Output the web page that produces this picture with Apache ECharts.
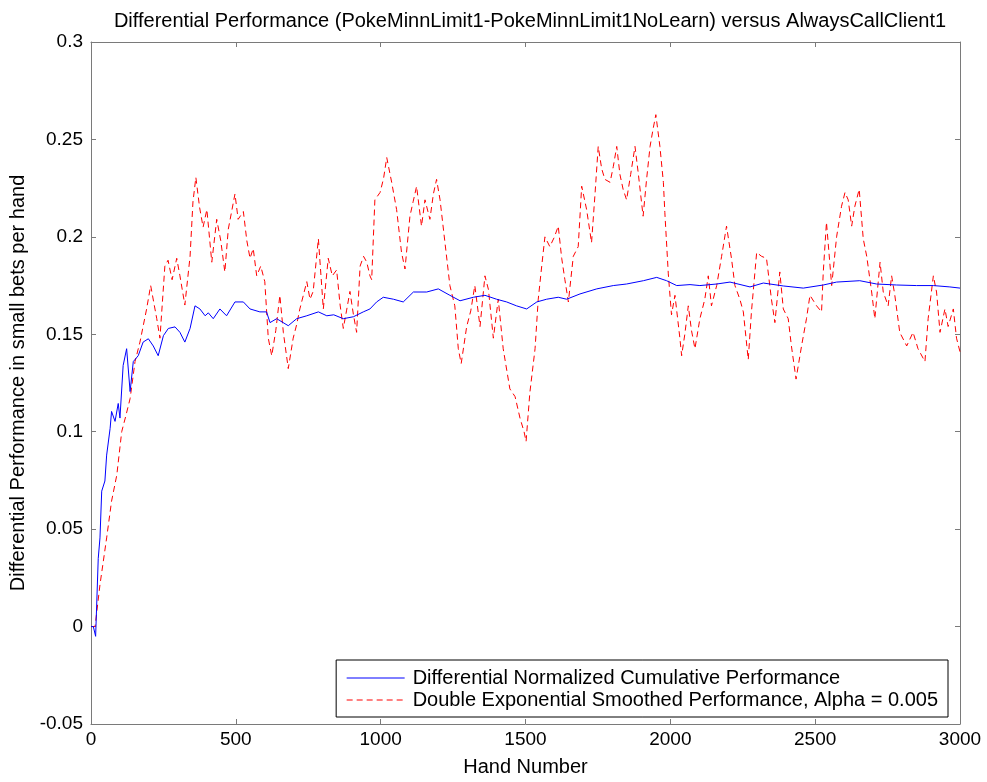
<!DOCTYPE html>
<html>
<head>
<meta charset="utf-8">
<script src="https://cdn.jsdelivr.net/npm/echarts@6/dist/echarts.min.js"></script>
<style>
html,body{margin:0;padding:0;background:#fff;}
#chart{width:987px;height:782px;}
</style>
</head>
<body>
<div id="chart"></div>
<script>
const titleText = "Differential Performance (PokeMinnLimit1-PokeMinnLimit1NoLearn) versus AlwaysCallClient1";
const xAxisName = "Hand Number";
const yAxisName = "Differential Performance in small bets per hand";
const seriesNames = ["Differential Normalized Cumulative Performance", "Double Exponential Smoothed Performance, Alpha = 0.005"];

const blueHands = [0,8,16,25,31,37,48,54,66,71,83,94,100,111,123,135,146,163,180,198,215,232,250,267,290,307,324,342,359,376,394,405,422,445,468,497,526,549,583,606,618,641,681,710,745,785,814,838,871,906,940,963,986,1009,1044,1078,1113,1159,1199,1239,1274,1320,1360,1400,1435,1469,1504,1539,1573,1613,1642,1688,1746,1803,1849,1907,1953,1987,2022,2068,2102,2160,2206,2275,2321,2390,2459,2528,2574,2654,2712,2781,2850,2908,2965,3000];
const blueValues = [0,0.0,-0.005,0.035,0.0455,0.0695,0.0747,0.088,0.1017,0.1104,0.1053,0.1145,0.107,0.134,0.1426,0.1206,0.136,0.139,0.146,0.1477,0.144,0.139,0.1493,0.153,0.1538,0.151,0.146,0.153,0.1646,0.163,0.1595,0.161,0.158,0.163,0.1595,0.1666,0.1666,0.163,0.1615,0.1615,0.156,0.158,0.1544,0.158,0.1595,0.1615,0.1595,0.16,0.158,0.159,0.1615,0.163,0.1666,0.169,0.168,0.1666,0.1717,0.1717,0.1733,0.17,0.1672,0.169,0.17,0.168,0.1666,0.1646,0.163,0.1666,0.168,0.169,0.168,0.1707,0.1733,0.175,0.1758,0.1775,0.1792,0.1775,0.175,0.1755,0.175,0.1758,0.1768,0.1743,0.1763,0.1748,0.1737,0.1753,0.1768,0.1775,0.1758,0.1753,0.175,0.175,0.1743,0.1737];

const redHands = [0,14,31,54,71,89,106,120,135,152,169,192,206,227,238,255,266,280,296,307,324,342,352,362,375,387,400,417,434,448,462,474,497,508,526,538,549,560,572,586,600,612,624,638,652,664,681,698,710,721,733,745,756,767,785,802,819,833,848,860,871,882,894,906,917,929,941,952,963,969,980,998,1010,1021,1038,1055,1072,1084,1101,1112,1124,1141,1153,1170,1182,1193,1205,1222,1239,1256,1268,1278,1297,1311,1325,1343,1360,1372,1389,1406,1423,1446,1464,1481,1495,1502,1515,1533,1544,1556,1567,1584,1600,1613,1625,1636,1648,1665,1682,1694,1711,1728,1740,1751,1763,1774,1792,1803,1815,1826,1837,1849,1863,1878,1889,1906,1918,1930,1940,1950,1964,1976,1981,1993,2004,2016,2033,2039,2050,2062,2073,2085,2102,2119,2131,2142,2160,2177,2194,2211,2223,2240,2252,2269,2280,2298,2315,2332,2349,2361,2378,2390,2407,2418,2434,2453,2470,2482,2505,2522,2528,2539,2557,2574,2591,2603,2614,2626,2637,2652,2666,2678,2695,2706,2724,2735,2752,2764,2775,2792,2816,2838,2855,2879,2890,2908,2919,2931,2948,2959,2977,2988,3000];
const redValues = [0,0.0,0.0215,0.0455,0.0644,0.0777,0.1,0.108,0.117,0.136,0.146,0.163,0.175,0.158,0.148,0.185,0.188,0.178,0.189,0.18,0.165,0.19,0.218,0.2305,0.215,0.205,0.214,0.187,0.209,0.198,0.182,0.204,0.222,0.209,0.213,0.198,0.189,0.194,0.18,0.185,0.177,0.148,0.139,0.152,0.17,0.151,0.1324,0.148,0.155,0.163,0.17,0.177,0.168,0.172,0.199,0.163,0.189,0.18,0.183,0.165,0.153,0.162,0.172,0.16,0.151,0.185,0.19,0.187,0.18,0.178,0.219,0.2228,0.23,0.2407,0.228,0.214,0.192,0.1835,0.2106,0.218,0.2259,0.2055,0.219,0.209,0.222,0.2295,0.219,0.197,0.175,0.1646,0.1426,0.135,0.154,0.162,0.175,0.154,0.18,0.173,0.148,0.168,0.1426,0.122,0.118,0.107,0.1,0.095,0.12,0.1426,0.168,0.185,0.2,0.195,0.2,0.2055,0.189,0.178,0.1666,0.19,0.195,0.226,0.214,0.197,0.222,0.2464,0.235,0.2295,0.228,0.236,0.2464,0.232,0.2244,0.219,0.232,0.2464,0.233,0.2106,0.2295,0.2464,0.255,0.2627,0.2464,0.228,0.2126,0.181,0.16,0.17,0.148,0.139,0.15,0.1646,0.152,0.1426,0.158,0.168,0.18,0.1646,0.175,0.19,0.2055,0.189,0.175,0.168,0.1615,0.137,0.1615,0.192,0.19,0.189,0.168,0.156,0.182,0.163,0.158,0.144,0.127,0.144,0.158,0.17,0.1646,0.1615,0.182,0.2075,0.175,0.2,0.2157,0.2228,0.219,0.2055,0.2157,0.2244,0.199,0.19,0.1717,0.158,0.187,0.1717,0.1646,0.18,0.17,0.151,0.144,0.151,0.1426,0.136,0.158,0.18,0.1717,0.151,0.163,0.154,0.163,0.148,0.141];

const xMin = 0, xMax = 3000, xStep = 500;
const yMin = -0.05, yMax = 0.3, yStep = 0.05;

function pairs(xs, ys){ return xs.map((x,i)=>[x, ys[i]]); }

const chart = echarts.init(document.getElementById('chart'), null, {renderer:'canvas'});
const FONT = 'Liberation Sans, Arial, sans-serif';
const axisGray = '#7a7a7a';
const tickStyle = {show:true, inside:true, length:5, lineStyle:{color:axisGray, width:1}};

chart.setOption({
  backgroundColor:'#ffffff',
  animation:false,
  title:{
    text:titleText, left:525, top:6, textAlign:'center',
    textStyle:{fontFamily:FONT, fontSize:20, fontWeight:'normal', color:'#000'}
  },
  grid:{left:91, top:42, right:27, bottom:55, containLabel:false},
  legend:{
    orient:'vertical', right:39, bottom:65, align:'left',
    backgroundColor:'#fff', borderColor:'#000', borderWidth:1, borderRadius:0,
    padding:[8,10,7,10], itemGap:2, itemWidth:58, itemHeight:14,
    itemStyle:{opacity:0},
    lineStyle:{width:1},
    textStyle:{fontFamily:FONT, fontSize:20, color:'#000', padding:[0,0,0,3]},
    data:seriesNames
  },
  xAxis:[
    {type:'value', min:xMin, max:xMax, interval:xStep, position:'bottom',
     name:xAxisName, nameLocation:'middle', nameGap:33,
     nameTextStyle:{fontFamily:FONT, fontSize:20, color:'#000'},
     axisLine:{show:true, onZero:false, lineStyle:{color:axisGray}},
     axisTick:tickStyle,
     axisLabel:{fontFamily:FONT, fontSize:19, color:'#000', margin:6, formatter:(v)=>String(v)},
     splitLine:{show:false}},
    {type:'value', min:xMin, max:xMax, interval:xStep, position:'top',
     axisLine:{show:true, onZero:false, lineStyle:{color:axisGray}},
     axisTick:tickStyle, axisLabel:{show:false}, splitLine:{show:false}}
  ],
  yAxis:[
    {type:'value', min:yMin, max:yMax, interval:yStep, position:'left',
     name:yAxisName, nameLocation:'middle', nameGap:56,
     nameTextStyle:{fontFamily:FONT, fontSize:20, color:'#000'},
     axisLine:{show:true, onZero:false, lineStyle:{color:axisGray}},
     axisTick:tickStyle,
     axisLabel:{fontFamily:FONT, fontSize:19, color:'#000', margin:8},
     splitLine:{show:false}},
    {type:'value', min:yMin, max:yMax, interval:yStep, position:'right',
     axisLine:{show:true, onZero:false, lineStyle:{color:axisGray}},
     axisTick:tickStyle, axisLabel:{show:false}, splitLine:{show:false}}
  ],
  series:[
    {name:seriesNames[0], type:'line', data:pairs(blueHands, blueValues),
     showSymbol:false, symbol:'none', smooth:false,
     lineStyle:{color:'#0000ff', width:1}, itemStyle:{color:'#0000ff'}, z:3},
    {name:seriesNames[1], type:'line', data:pairs(redHands, redValues),
     showSymbol:false, symbol:'none', smooth:false,
     lineStyle:{color:'#ff0000', width:1, type:[6,4]}, itemStyle:{color:'#ff0000'}, z:2}
  ]
});
</script>
</body>
</html>
